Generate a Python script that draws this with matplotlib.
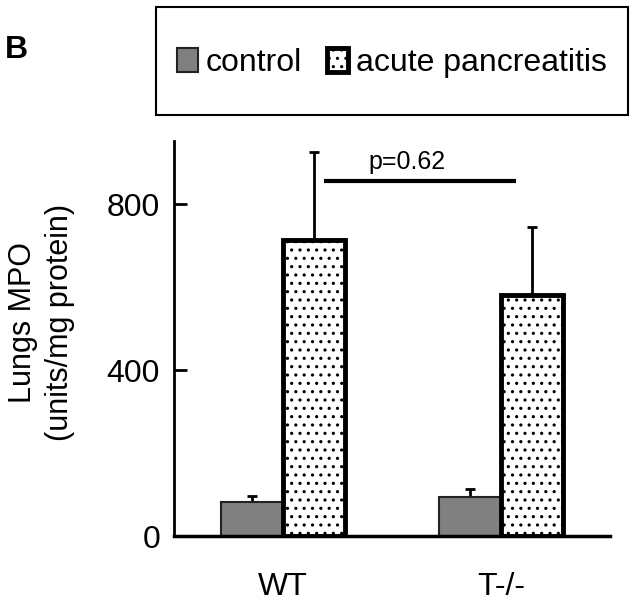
import matplotlib.pyplot as plt
from matplotlib.patches import Rectangle

plt.rcParams['font.family'] = ['Liberation Sans', 'DejaVu Sans']
plt.rcParams['hatch.color'] = '#6e6e6e'
plt.rcParams['hatch.linewidth'] = 1.1

groups    = ['WT', 'T-/-']
series    = ['control', 'acute pancreatitis']
control   = [82, 94]
control_e = [14, 19]
acute     = [713, 581]
acute_e   = [212, 164]
p_text    = 'p=0.62'
p_level   = 855

fig = plt.figure(figsize=(6.35, 6.01), dpi=100)
ax = fig.add_axes([0.274, 0.108, 0.687, 0.657])

x = range(len(groups))
w = 0.285
xc = [i - w / 2 for i in x]
xa = [i + w / 2 for i in x]

ax.bar(xc, control, w, color='#808080', edgecolor='#222222', linewidth=1.5,
       label=series[0], zorder=2)
ax.errorbar(xc, control, yerr=[[0] * len(control), control_e], fmt='none',
            ecolor='black', elinewidth=2, capsize=3.5, capthick=2, zorder=1)
ax.bar(xa, acute, w, color='white', edgecolor='black', linewidth=3.5,
       hatch='..', label=series[1], zorder=2)
ax.errorbar(xa, acute, yerr=[[0] * len(acute), acute_e], fmt='none',
            ecolor='black', elinewidth=2, capsize=3.5, capthick=2, zorder=1)

# significance line
ax.plot([0.19, 1.07], [p_level, p_level], color='black', lw=3, solid_capstyle='butt')
ax.text(0.57, p_level + 18, p_text, ha='center', va='bottom', fontsize=18)

ax.set_xlim(-0.5, 1.5)
ax.set_ylim(0, 952)
ax.set_yticks([0, 400, 800])
ax.set_xticks(list(x))
ax.set_xticklabels(groups)
ax.tick_params(axis='y', direction='in', length=9, width=2, labelsize=23, pad=10)
ax.tick_params(axis='x', length=0, labelsize=23, pad=26)
ax.spines['top'].set_visible(False)
ax.spines['right'].set_visible(False)
ax.spines['left'].set_linewidth(2)
ax.spines['bottom'].set_linewidth(2.5)
ax.set_ylabel('Lungs MPO\n(units/mg protein)', fontsize=22, linespacing=1.3)
ax.yaxis.set_label_coords(-0.227, 0.54)

# legend box
fig.patches.append(Rectangle((156 / 635, 1 - 115 / 601), 472 / 635, 108 / 601,
                             transform=fig.transFigure, fill=False,
                             edgecolor='black', linewidth=1.5))
fig.legend(loc='center', bbox_to_anchor=(392 / 635, 1 - 63 / 601), ncol=2,
           frameon=False, fontsize=23, handlelength=0.65, handleheight=0.75,
           handletextpad=0.25, columnspacing=0.8)

fig.text(16 / 635, 1 - 50 / 601, 'B', fontsize=23, fontweight='bold',
         ha='center', va='center')

fig.savefig('out.png', dpi=100)
